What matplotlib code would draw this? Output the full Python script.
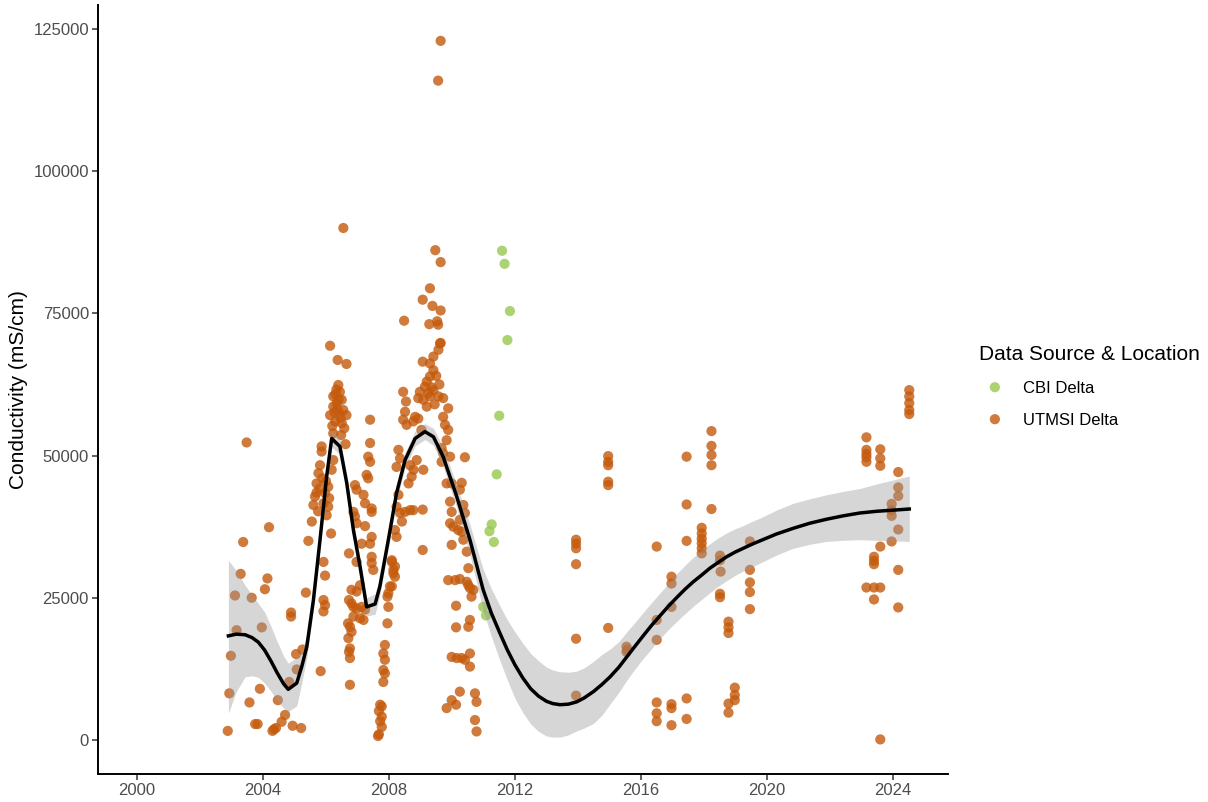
import numpy as np
import matplotlib.pyplot as plt

plt.rcParams['font.family'] = ['Liberation Sans', 'DejaVu Sans']

# ---------- data ----------
legend_title = 'Data Source & Location'
legend_labels = ['CBI Delta', 'UTMSI Delta']
y_label = 'Conductivity (mS/cm)'

x_ticks = [2000, 2004, 2008, 2012, 2016, 2020, 2024]
y_ticks = [0, 25000, 50000, 75000, 100000, 125000]

# CBI Delta samples
cbi_year = [2011.59, 2011.67, 2011.84, 2011.76, 2011.50, 2011.42,
            2011.26, 2011.19, 2011.33, 2010.99, 2011.08]
cbi_cond = [86000, 83700, 75400, 70300, 57000, 46700,
            37900, 36700, 34800, 23400, 21900]

# UTMSI Delta samples (year, conductivity)
utmsi_2003_2005 = [
    (2002.88, 1600), (2002.93, 8200), (2002.98, 14800), (2003.11, 25400), (2003.16, 19300),
    (2003.29, 29200), (2003.37, 34800), (2003.48, 52300), (2003.57, 6600), (2003.64, 25000),
    (2003.75, 2800), (2003.83, 2800), (2003.90, 9000), (2003.96, 19800), (2004.06, 26500),
    (2004.14, 28400), (2004.19, 37400), (2004.30, 1600), (2004.35, 1900), (2004.41, 2100),
    (2004.47, 7000), (2004.59, 3200), (2004.70, 4400), (2004.83, 10200), (2004.89, 22400),
    (2004.89, 21700), (2004.94, 2500), (2005.05, 15100), (2005.07, 12400), (2005.21, 2100),
    (2005.25, 15900), (2005.36, 25900),
]
utmsi_2005_2006 = [
    (2005.44, 35000), (2005.55, 38400), (2005.60, 41300), (2005.65, 42800), (2005.70, 45100),
    (2005.76, 46900), (2005.81, 48300), (2005.83, 12100), (2005.86, 51600), (2005.86, 50700),
    (2005.92, 31300), (2005.97, 28900), (2005.92, 24600), (2005.97, 23700), (2005.92, 22600),
    (2005.97, 43400), (2005.92, 41600), (2006.07, 41000), (2006.07, 44500), (2006.18, 47500),
    (2006.23, 49200), (2006.16, 36300), (2005.70, 43500), (2005.80, 44200), (2005.88, 46000),
    (2006.00, 45500), (2006.02, 39500), (2006.10, 42500), (2005.75, 40200),
    (2006.13, 69300), (2006.37, 66800), (2006.65, 66100), (2006.55, 90000),
    (2006.39, 62400), (2006.44, 61200), (2006.23, 60400), (2006.50, 59800), (2006.34, 59200),
    (2006.23, 58600), (2006.55, 58000), (2006.42, 57400), (2006.13, 57100), (2006.65, 57100),
    (2006.29, 56000), (2006.50, 55700), (2006.23, 53900), (2006.30, 60800), (2006.36, 58200),
    (2006.46, 56600), (2006.27, 57600), (2006.40, 59900), (2006.33, 61600), (2006.20, 55200),
    (2006.62, 52000), (2006.58, 54800), (2006.48, 53600),
]
utmsi_2007 = [
    (2007.40, 56300), (2007.40, 52200), (2007.34, 49800), (2007.40, 48900), (2007.29, 46600),
    (2007.34, 46000), (2006.92, 44800), (2006.97, 44000), (2007.19, 43100), (2007.24, 41600),
    (2007.45, 40700), (2007.45, 40100), (2006.87, 40100), (2006.92, 39300), (2006.97, 38100),
    (2007.24, 37600), (2007.45, 35700), (2007.40, 34500), (2007.13, 34500), (2006.73, 32800),
    (2007.45, 32200), (2007.45, 31100), (2007.50, 29900), (2006.97, 31300), (2006.81, 26400),
    (2006.97, 26100), (2007.08, 27200), (2006.81, 24000), (2006.87, 23400), (2006.97, 23100),
    (2007.13, 23400), (2007.24, 22900), (2006.87, 21700), (2007.08, 21400), (2007.19, 21100),
    (2006.76, 19900), (2006.81, 19000), (2006.71, 17900), (2006.76, 16100), (2006.73, 15500),
    (2006.76, 14400), (2006.76, 9700), (2006.73, 24600), (2006.70, 20500),
]
utmsi_2008 = [
    (2007.95, 20500), (2007.98, 23400), (2007.95, 25200), (2008.03, 27000), (2008.14, 29300),
    (2008.19, 30500), (2008.09, 31600), (2007.87, 16700), (2007.82, 15200), (2007.87, 14100),
    (2007.82, 12300), (2007.87, 11700), (2007.82, 10200), (2007.77, 5900), (2007.77, 4100),
    (2007.77, 2300), (2007.72, 6200), (2007.68, 5100), (2007.72, 3300), (2007.68, 1000),
    (2007.65, 700), (2008.09, 31300), (2008.14, 29900), (2008.19, 28700), (2008.09, 27000),
    (2007.98, 25800), (2008.30, 43100), (2008.24, 41000), (2008.35, 39900), (2008.51, 40100),
    (2008.67, 40400), (2008.77, 40400), (2008.41, 38400), (2008.19, 36900), (2008.24, 35700),
    (2008.30, 51000), (2008.35, 49500), (2008.24, 48000), (2008.67, 48300), (2008.78, 47500),
    (2008.72, 46300), (2008.62, 45100), (2009.09, 47500), (2008.88, 49200),
    (2008.45, 61200), (2008.54, 59500), (2008.51, 57700), (2008.45, 56300), (2008.56, 55400),
    (2008.77, 56000), (2008.83, 56800), (2008.93, 56500), (2009.03, 54500), (2008.48, 73700),
]
utmsi_2009 = [
    (2009.41, 65000), (2009.30, 63900), (2009.20, 63000), (2009.14, 62100), (2008.98, 61200),
    (2009.41, 61500), (2009.30, 60400), (2009.57, 60400), (2009.72, 60100), (2009.09, 59800),
    (2008.93, 60100), (2009.20, 58600), (2009.62, 69700), (2009.57, 68600), (2009.41, 67400),
    (2009.30, 66200), (2009.07, 66500), (2009.64, 122900), (2009.56, 115900), (2009.47, 86100),
    (2009.64, 84000), (2009.30, 79400), (2009.07, 77400), (2009.38, 76300), (2009.64, 75500),
    (2009.28, 73100), (2009.53, 73600), (2009.56, 73000), (2009.64, 69800), (2009.50, 64000),
    (2009.60, 62500), (2009.35, 62000), (2009.25, 61000), (2009.45, 59000),
]
utmsi_2010 = [
    (2009.88, 58300), (2009.72, 56800), (2009.78, 55400), (2009.88, 54500), (2009.83, 52700),
    (2009.67, 51300), (2009.72, 50400), (2009.67, 48900), (2010.41, 49700), (2010.31, 45200),
    (2010.25, 44000), (2010.36, 41300), (2010.41, 39900), (2010.25, 38700), (2010.31, 36600),
    (2010.36, 35200), (2010.47, 33100), (2010.52, 30200), (2009.94, 49800), (2009.99, 45100),
    (2009.83, 45100), (2009.94, 41900), (2009.99, 40100), (2009.94, 38100), (2010.04, 37500),
    (2010.20, 36900), (2009.07, 40500), (2009.07, 33400), (2009.99, 34300),
    (2009.88, 28100), (2010.10, 28100), (2010.25, 28300), (2010.47, 27800), (2010.57, 26700),
    (2010.68, 26400), (2010.62, 25200), (2010.52, 27200), (2010.13, 23600), (2010.57, 21100),
    (2010.52, 19900), (2010.13, 19800), (2009.99, 14600), (2010.15, 14400), (2010.31, 14400),
    (2010.41, 14100), (2010.57, 15200), (2010.57, 12900), (2010.25, 8500), (2009.99, 7000),
    (2009.83, 5600), (2010.13, 6200), (2010.73, 8200), (2010.78, 6700), (2010.73, 3500),
    (2010.78, 1500),
]
utmsi_2014_2019 = [
    (2013.94, 35200), (2013.94, 34500), (2013.94, 33700), (2013.94, 30900), (2013.94, 17800),
    (2013.94, 7800),
    (2014.96, 49900), (2014.96, 48900), (2014.96, 48300), (2014.96, 45400), (2014.96, 44800),
    (2014.96, 19700),
    (2015.54, 16400), (2015.57, 15900), (2015.54, 15500),
    (2016.50, 34000), (2016.50, 21100), (2016.50, 17600), (2016.50, 6600), (2016.50, 4700),
    (2016.50, 3300),
    (2016.97, 28700), (2016.97, 27500), (2016.97, 23400), (2016.97, 6300), (2016.97, 5600),
    (2016.97, 2600),
    (2017.45, 49800), (2017.45, 41400), (2017.45, 35000), (2017.45, 7300), (2017.45, 3700),
    (2017.93, 37300), (2017.93, 36300), (2017.93, 35400), (2017.93, 34600), (2017.93, 33700),
    (2017.93, 32800),
    (2018.24, 54300), (2018.24, 51700), (2018.24, 50100), (2018.24, 48300), (2018.24, 40600),
    (2018.51, 32400), (2018.51, 31600), (2018.53, 29600), (2018.51, 25700), (2018.51, 25100),
    (2018.78, 20800), (2018.78, 19800), (2018.78, 18800), (2018.78, 6400), (2018.78, 4800),
    (2018.98, 9200), (2018.98, 7900), (2018.98, 7000),
    (2019.46, 34900), (2019.46, 29900), (2019.46, 27700), (2019.46, 26000), (2019.46, 23000),
]
utmsi_2023_2024 = [
    (2023.16, 53200), (2023.16, 51000), (2023.16, 50300), (2023.16, 49700), (2023.16, 48900),
    (2023.16, 26800),
    (2023.40, 32200), (2023.40, 31500), (2023.40, 30900), (2023.40, 26800), (2023.40, 24700),
    (2023.60, 51100), (2023.60, 49500), (2023.60, 48200), (2023.60, 34000), (2023.60, 26800),
    (2023.60, 100),
    (2023.96, 41500), (2023.96, 40400), (2023.96, 39400), (2023.96, 34900),
    (2024.17, 47100), (2024.17, 44400), (2024.17, 42900), (2024.17, 37000), (2024.17, 29900),
    (2024.17, 23300),
    (2024.52, 61500), (2024.52, 60400), (2024.52, 59200), (2024.52, 58000), (2024.52, 57300),
]

# smoothed trend and its confidence band, as drawn on the chart
smooth_year = [2002.90, 2003.15, 2003.43, 2003.65, 2003.85, 2004.05, 2004.25, 2004.45,
               2004.65, 2004.80, 2005.07, 2005.23, 2005.39, 2005.60, 2005.81, 2006.02,
               2006.18, 2006.44, 2006.66, 2006.87, 2007.08, 2007.29, 2007.56, 2007.71,
               2007.98, 2008.24, 2008.51, 2008.83, 2009.14, 2009.41, 2009.72, 2010.15,
               2010.57, 2010.78, 2010.99, 2011.25, 2011.52, 2011.76, 2012.00, 2012.25,
               2012.50, 2012.75, 2013.00, 2013.20, 2013.43, 2013.70, 2013.96, 2014.20,
               2014.49, 2014.75, 2015.02, 2015.30, 2015.55, 2015.80, 2016.07, 2016.33,
               2016.60, 2016.87, 2017.13, 2017.40, 2017.66, 2017.93, 2018.19, 2018.45,
               2018.72, 2018.98, 2019.25, 2019.52, 2019.78, 2020.30, 2020.83, 2021.36,
               2021.89, 2022.42, 2022.95, 2023.48, 2024.01, 2024.52]
smooth_fit = [18300, 18600, 18500, 18000, 17200, 15800, 13900, 11800,
              9900, 8900, 10000, 12900, 16400, 24600, 35200, 46300,
              53000, 51600, 45100, 36900, 30500, 23400, 23900, 27000,
              35200, 43400, 49200, 53000, 54200, 53300, 49800, 42800,
              35200, 30800, 26400, 22300, 18800, 15800, 13200, 10900,
              9000, 7700, 6800, 6400, 6200, 6300, 6700, 7400,
              8500, 9700, 11100, 12800, 14600, 16400, 18300, 20100,
              21800, 23500, 25000, 26500, 27800, 29000, 30200, 31200,
              32200, 33000, 33700, 34400, 35000, 36200, 37200, 38100,
              38800, 39400, 39900, 40200, 40400, 40600]
smooth_lo = [4700, 8500, 11100, 11300, 11000, 10000, 8600, 6900,
             5600, 5000, 6000, 10000, 14500, 23200, 33900, 45000,
             51500, 50200, 43700, 35500, 29000, 21800, 22100, 25500,
             33800, 42000, 47900, 51700, 52800, 51800, 48100, 40800,
             32500, 27700, 22800, 18200, 14000, 10500, 7300, 4800,
             2800, 1500, 700, 500, 500, 900, 1600, 2100,
             2900, 4300, 6300, 8400, 10500, 12400, 14300, 16000,
             17800, 19400, 20800, 22200, 23500, 24700, 25900, 27000,
             28000, 28900, 29700, 30400, 31100, 32500, 33700, 34400,
             34900, 35100, 35200, 35100, 35000, 34900]
smooth_hi = [31600, 29800, 27200, 25500, 24000, 22500, 20000, 17300,
             14800, 13500, 14500, 15800, 18300, 26000, 36500, 47600,
             54500, 53000, 46500, 38300, 32000, 25000, 25700, 28500,
             36600, 44800, 50500, 54300, 55600, 54800, 51500, 44800,
             37900, 33900, 30000, 26600, 23600, 21100, 19000, 17000,
             15200, 13900, 12800, 12300, 12000, 11900, 12100, 12700,
             13800, 15000, 16000, 17300, 19000, 20600, 22400, 24100,
             25800, 27500, 29200, 30700, 32100, 33400, 34500, 35500,
             36400, 37100, 37700, 38400, 39000, 40400, 41600, 42400,
             43100, 43700, 44200, 45000, 45700, 46400]

# ---------- plot ----------
orange = '#C45A0C'
green = '#97C94F'

utmsi = np.array(utmsi_2003_2005 + utmsi_2005_2006 + utmsi_2007 + utmsi_2008
                 + utmsi_2009 + utmsi_2010 + utmsi_2014_2019 + utmsi_2023_2024)

fig = plt.figure(figsize=(12.08, 8.02), dpi=100)
ax = fig.add_axes([98 / 1208, 28 / 802, 850 / 1208, 769 / 802])

sc_utmsi = ax.scatter(utmsi[:, 0], utmsi[:, 1], s=54, color=orange, alpha=0.8,
                      edgecolors='none', zorder=2)
sc_cbi = ax.scatter(cbi_year, cbi_cond, s=54, color=green, alpha=0.8,
                    edgecolors='none', zorder=2)

ax.fill_between(smooth_year, smooth_lo, smooth_hi, color='#999999', alpha=0.4,
                linewidth=0, zorder=3)
ax.plot(smooth_year, smooth_fit, color='black', linewidth=2.5, zorder=4)

ax.set_xlim(1998.76, 2025.75)
ax.set_ylim(-5980, 129200)
ax.set_xticks(x_ticks)
ax.set_xticklabels([str(t) for t in x_ticks])
ax.set_yticks(y_ticks)
ax.set_yticklabels([str(t) for t in y_ticks])
ax.tick_params(axis='both', labelsize=12, labelcolor='#4D4D4D', color='#333333',
               length=4, width=1.1, pad=2.5)

for side in ['top', 'right']:
    ax.spines[side].set_visible(False)
for side in ['left', 'bottom']:
    ax.spines[side].set_linewidth(1.4)
    ax.spines[side].set_color('black')

ax.set_ylabel(y_label, fontsize=15, labelpad=4)

leg = ax.legend([sc_cbi, sc_utmsi], legend_labels, title=legend_title,
                loc='upper left', bbox_to_anchor=(975.7 / 1208, 1 - 341.7 / 802),
                bbox_transform=fig.transFigure, frameon=False, fontsize=12,
                title_fontsize=15, alignment='left', borderpad=0.2, borderaxespad=0,
                handlelength=1.9, handletextpad=0.72, labelspacing=1.02,
                scatterpoints=1, scatteryoffsets=[0.5])

fig.savefig('out.png', dpi=100, facecolor='white')
